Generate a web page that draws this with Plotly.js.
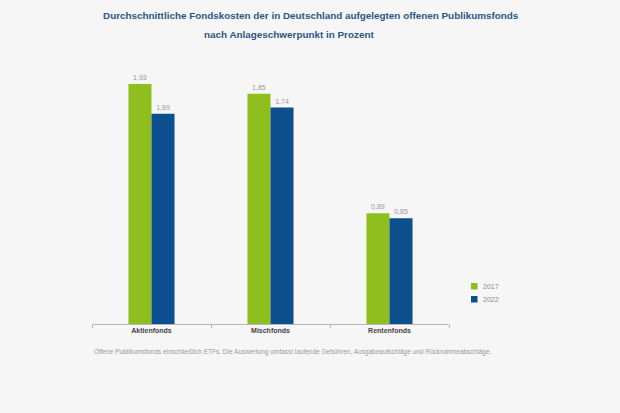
<!DOCTYPE html>
<html>
<head>
<meta charset="utf-8">
<script src="https://cdn.plot.ly/plotly-3.0.1.min.js"></script>
<style>html,body{margin:0;padding:0;background:#f6f6f6;}#chart{width:620px;height:413px;}</style>
</head>
<body>
<div id="chart"></div>
<script>
const categories = ["Aktienfonds", "Mischfonds", "Rentenfonds"];
const values2017 = [1.93, 1.85, 0.89];
const values2022 = [1.69, 1.74, 0.85];
const seriesNames = ["2017", "2022"];
const seriesColors = ["#8fbf1e", "#0b4f8f"];
const titleLine1 = "Durchschnittliche Fondskosten der in Deutschland aufgelegten offenen Publikumsfonds";
const titleLine2 = "nach Anlageschwerpunkt in Prozent";
const footnote = "Offene Publikumsfonds einschließlich ETFs. Die Auswertung umfasst laufende Gebühren, Ausgabeaufschläge und Rücknahmeabschläge.";

const FONT = "Liberation Sans, Arial, sans-serif";
const labelFont = {family: FONT, size: 7, color: "#999999"};

const traces = [
  {type: "bar", name: seriesNames[0], x: categories, y: values2017,
   marker: {color: seriesColors[0]}, texttemplate: "%{y:.2f}", textposition: "outside",
   textfont: labelFont, cliponaxis: false, hoverinfo: "none", showlegend: false},
  {type: "bar", name: seriesNames[1], x: categories, y: values2022,
   marker: {color: seriesColors[1]}, texttemplate: "%{y:.2f}", textposition: "outside",
   textfont: labelFont, cliponaxis: false, hoverinfo: "none", showlegend: false}
];

// plot area: x 92..449 px, y 60..324 px
const px = p => (p - 92) / 357;
const py = p => (324 - p) / 264;

// legend drawn as shapes + annotations
const legendShapes = seriesNames.map((n, i) => ({
  type: "rect", xref: "paper", yref: "paper",
  x0: px(471), x1: px(477.5), y0: py(283 + i * 13), y1: py(289.5 + i * 13),
  fillcolor: seriesColors[i], line: {width: 0}
}));
const legendTexts = seriesNames.map((n, i) => ({
  text: n, xref: "paper", yref: "paper", x: px(481), y: py(286.5 + i * 13),
  xanchor: "left", yanchor: "middle", showarrow: false,
  font: {family: FONT, size: 7, color: "#8a8a8a"}
}));

const layout = {
  width: 620, height: 413,
  paper_bgcolor: "#f6f6f6", plot_bgcolor: "#f6f6f6",
  margin: {l: 92, r: 171, t: 60, b: 89},
  separators: ",.",
  barmode: "group", bargap: 0.613, bargroupgap: 0,
  showlegend: false,
  xaxis: {type: "category", showline: true, linecolor: "#b8b8b8", linewidth: 1,
          ticks: "outside", tickson: "boundaries", ticklen: 3, tickcolor: "#b8b8b8",
          tickfont: {family: FONT, size: 7, color: "#444", weight: "bold"},
          showgrid: false, zeroline: false, fixedrange: true},
  yaxis: {range: [0, 2.122], visible: false, showgrid: false, zeroline: false, fixedrange: true},
  shapes: legendShapes,
  annotations: [
    {text: titleLine1, xref: "paper", yref: "paper", x: px(310.5), y: py(16),
     xanchor: "center", yanchor: "middle", showarrow: false,
     font: {family: FONT, size: 9.9, color: "#2b5585", weight: "bold"}},
    {text: titleLine2, xref: "paper", yref: "paper", x: px(289), y: py(35),
     xanchor: "center", yanchor: "middle", showarrow: false,
     font: {family: FONT, size: 9.9, color: "#2b5585", weight: "bold"}},
    {text: footnote, xref: "paper", yref: "paper", x: 0, y: py(352),
     xanchor: "left", yanchor: "middle", showarrow: false,
     font: {family: FONT, size: 6.5, color: "#9a9a9a"}}
  ].concat(legendTexts)
};

Plotly.newPlot("chart", traces, layout, {displayModeBar: false, staticPlot: true});
</script>
</body>
</html>
